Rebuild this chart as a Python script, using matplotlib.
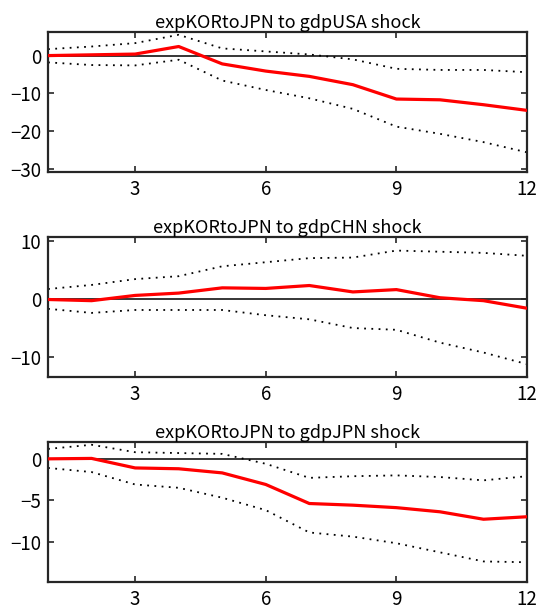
import matplotlib
matplotlib.use("Agg")
import matplotlib.pyplot as plt

plt.rcParams['font.family'] = ['Noto Sans CJK JP', 'DejaVu Sans']

horizon = list(range(1, 13))

titles = ["expKORtoJPN to gdpUSA shock",
          "expKORtoJPN to gdpCHN shock",
          "expKORtoJPN to gdpJPN shock"]

# impulse responses (median) and bands
usa_mid = [0.0, 0.2, 0.4, 2.4, -2.2, -4.1, -5.5, -7.7, -11.5, -11.7, -13.0, -14.5]
usa_hi = [1.7, 2.4, 3.3, 5.5, 1.9, 1.1, 0.3, -1.0, -3.5, -3.8, -3.8, -4.4]
usa_lo = [-1.8, -2.5, -2.6, -1.1, -6.6, -9.1, -11.3, -14.1, -18.8, -20.7, -22.9, -25.6]

chn_mid = [-0.1, -0.3, 0.6, 1.0, 1.9, 1.8, 2.3, 1.2, 1.6, 0.2, -0.3, -1.6]
chn_hi = [1.7, 2.4, 3.4, 3.9, 5.6, 6.3, 7.0, 7.1, 8.3, 8.1, 7.9, 7.4]
chn_lo = [-1.7, -2.4, -1.9, -1.9, -1.9, -2.8, -3.5, -5.0, -5.3, -7.5, -9.2, -11.2]

jpn_mid = [0.0, 0.05, -1.1, -1.2, -1.7, -3.1, -5.4, -5.6, -5.9, -6.4, -7.3, -7.0]
jpn_hi = [1.2, 1.7, 0.8, 0.7, 0.6, -0.6, -2.3, -2.1, -2.0, -2.2, -2.6, -2.1]
jpn_lo = [-1.1, -1.6, -3.1, -3.5, -4.7, -6.2, -8.9, -9.4, -10.2, -11.3, -12.4, -12.5]

panels = [
    (usa_mid, usa_hi, usa_lo, (-30.8, 6.2), [-30, -20, -10, 0]),
    (chn_mid, chn_hi, chn_lo, (-13.4, 10.6), [-10, 0, 10]),
    (jpn_mid, jpn_hi, jpn_lo, (-14.9, 2.0), [-10, -5, 0]),
]

fig = plt.figure(figsize=(5.4, 6.16), dpi=100)
bottoms = [0.7208, 0.388, 0.055]

for i, (mid, hi, lo, ylim, yticks) in enumerate(panels):
    ax = fig.add_axes([0.089, bottoms[i], 0.887, 0.227])
    ax.axhline(0, color='black', lw=1.1, zorder=1)
    ax.plot(horizon, hi, color='black', lw=1.3, dashes=(1, 3))
    ax.plot(horizon, lo, color='black', lw=1.3, dashes=(1, 3))
    ax.plot(horizon, mid, color='red', lw=2.3, zorder=3)
    ax.set_xlim(1, 12)
    ax.set_ylim(*ylim)
    ax.set_xticks([3, 6, 9, 12])
    ax.set_yticks(yticks)
    ax.tick_params(direction='in', top=True, right=True, labelsize=13.5,
                   length=4, width=1.2, color='#262626', pad=5)
    for s in ax.spines.values():
        s.set_linewidth(1.6)
        s.set_color('#262626')
    ax.set_title(titles[i], fontsize=13, pad=3)

fig.savefig('out.png', dpi=100)
